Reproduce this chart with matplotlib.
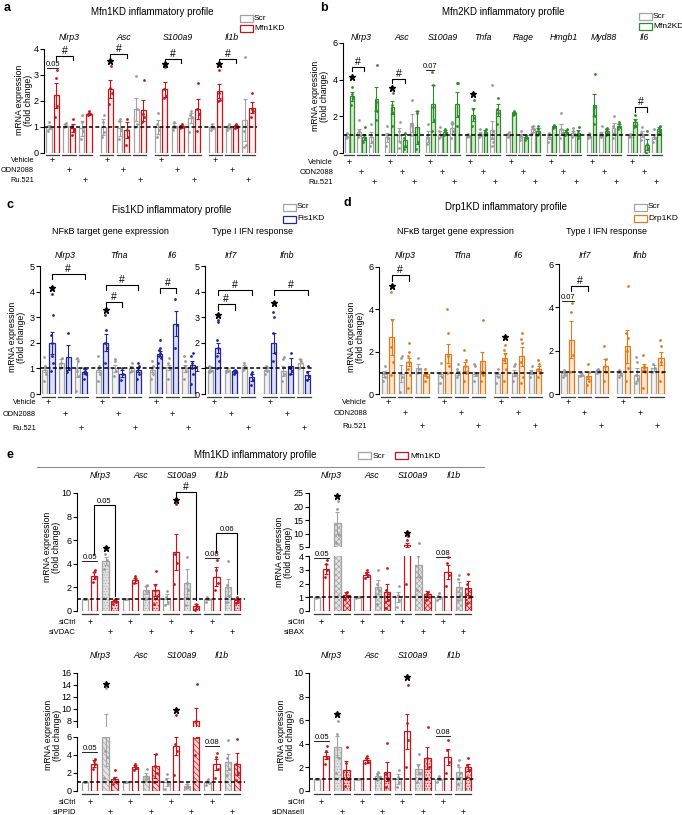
import numpy as np
import matplotlib

matplotlib.use("Agg")
import matplotlib.pyplot as plt
from matplotlib import transforms
from matplotlib.patches import Rectangle

W, H = 682, 815

plt.rcParams["font.family"] = ["Liberation Sans", "DejaVu Sans"]
plt.rcParams["hatch.linewidth"] = 0.5

# ---------------- data ----------------
# bar order per gene (a-d): Scr Veh, KD Veh, Scr ODN, KD ODN, Scr Ru, KD Ru
genes_a = ["Nlrp3", "Asc", "S100a9", "Il1b"]
mean_a = [
    [1.0, 2.22, 1.05, 0.95, 0.95, 1.5],
    [1.0, 2.45, 0.95, 0.88, 1.68, 1.65],
    [1.0, 2.45, 1.05, 1.02, 1.35, 1.68],
    [1.0, 2.38, 1.0, 1.02, 1.28, 1.75],
]
sem_a = [
    [0.08, 0.48, 0.05, 0.15, 0.28, 0.04],
    [0.3, 0.35, 0.3, 0.3, 0.45, 0.4],
    [0.28, 0.28, 0.1, 0.06, 0.2, 0.38],
    [0.05, 0.27, 0.05, 0.04, 0.8, 0.2],
]
dots_a = [
    [[0.85, 0.95, 1.05, 1.2], [1.4, 1.8, 2.9, 3.2], [1.0, 1.05, 1.1, 1.15],
     [0.7, 0.9, 1.05, 1.3], [0.55, 0.85, 1.2, 1.45], [1.45, 1.5, 1.52, 1.6]],
    [[0.6, 0.8, 1.2, 1.45], [1.9, 2.3, 2.5, 3.35], [0.55, 0.9, 1.25, 1.3],
     [0.3, 0.6, 0.9, 1.3], [1.0, 1.7, 2.95, 1.1], [1.2, 1.4, 1.5, 2.8]],
    [[0.6, 0.9, 1.1, 1.55], [2.1, 2.2, 2.45, 3.3], [0.9, 1.0, 1.05, 1.2],
     [0.95, 1.0, 1.05, 1.1], [0.8, 1.4, 1.45, 1.6], [0.85, 1.5, 1.7, 2.7]],
    [[0.9, 0.95, 1.0, 1.1], [2.0, 2.05, 2.3, 3.2], [0.9, 0.95, 1.05, 1.1],
     [0.95, 1.0, 1.05, 1.1], [0.25, 0.3, 0.85, 3.7], [1.4, 1.6, 1.7, 2.3]],
]

genes_b = ["Nlrp3", "Asc", "S100a9", "Tnfa", "Rage", "Hmgb1", "Myd88", "Il6"]
mean_b = [
    [0.95, 3.1, 1.15, 0.85, 0.85, 2.95],
    [0.85, 2.5, 1.0, 0.7, 1.65, 1.4],
    [0.9, 2.7, 1.05, 1.15, 1.35, 2.65],
    [0.95, 2.1, 1.05, 1.15, 1.25, 2.35],
    [1.0, 2.2, 0.95, 0.9, 1.3, 1.2],
    [0.9, 1.45, 1.3, 1.15, 1.1, 1.1],
    [0.95, 2.6, 1.05, 1.2, 1.35, 1.5],
    [0.95, 1.7, 1.05, 0.45, 0.9, 1.3],
]
sem_b = [
    [0.1, 0.25, 0.15, 0.15, 0.3, 0.65],
    [0.25, 0.35, 0.35, 0.35, 0.5, 0.9],
    [0.3, 1.0, 0.15, 0.1, 0.3, 0.7],
    [0.05, 0.35, 0.1, 0.1, 0.5, 0.35],
    [0.1, 0.05, 0.1, 0.1, 0.15, 0.15],
    [0.15, 0.05, 0.3, 0.1, 0.1, 0.15],
    [0.1, 0.6, 0.1, 0.1, 0.3, 0.1],
    [0.05, 0.15, 0.15, 0.3, 0.15, 0.1],
]
dots_b = [
    [[0.8, 0.9, 1.0, 1.1], [2.6, 3.0, 3.2, 3.6], [0.9, 1.0, 1.2, 1.8],
     [0.6, 0.8, 1.0, 1.4], [0.4, 0.6, 1.0, 1.6], [1.8, 2.3, 2.8, 4.8]],
    [[0.4, 0.8, 1.0, 1.5], [1.5, 2.2, 2.6, 3.3], [0.3, 0.6, 1.2, 1.7],
     [0.2, 0.4, 0.8, 1.1], [1.0, 1.5, 1.6, 2.9], [0.2, 0.6, 2.2, 2.3]],
    [[0.5, 0.8, 1.0, 1.6], [1.2, 1.8, 2.5, 3.7, 4.4], [0.8, 1.0, 1.2, 1.4],
     [1.0, 1.1, 1.2, 1.3], [0.8, 1.2, 1.6, 1.7], [1.5, 2.0, 3.8, 3.8]],
    [[0.9, 0.95, 1.0, 1.05], [1.5, 1.9, 2.4, 2.9], [0.9, 1.0, 1.1, 1.3],
     [1.0, 1.1, 1.2, 1.3], [0.4, 0.6, 0.8, 1.2, 3.7], [1.6, 2.2, 2.4, 3.0]],
    [[0.85, 0.95, 1.05, 1.15], [2.1, 2.15, 2.2, 2.3], [0.7, 0.9, 1.0, 1.2],
     [0.7, 0.8, 0.95, 1.0], [1.1, 1.3, 1.4, 1.5], [1.0, 1.1, 1.3, 1.5]],
    [[0.6, 0.9, 1.0, 1.1], [1.35, 1.4, 1.5, 1.55], [0.8, 1.1, 1.3, 2.2],
     [1.0, 1.1, 1.2, 1.3], [0.9, 1.0, 1.2, 1.35], [0.8, 1.0, 1.2, 1.4]],
    [[0.8, 0.9, 1.0, 1.1], [1.6, 2.0, 2.5, 4.3], [0.9, 1.0, 1.1, 1.5],
     [1.0, 1.2, 1.3, 1.35], [0.8, 1.1, 1.5, 2.0], [1.3, 1.4, 1.6, 1.7]],
    [[0.85, 0.95, 1.0, 1.05], [1.4, 1.5, 1.8, 2.1], [0.7, 1.0, 1.1, 1.4],
     [0.0, 0.3, 0.5, 1.2], [0.6, 0.8, 1.0, 1.3], [1.1, 1.2, 1.35, 1.5]],
]

genes_c_nfkb = ["Nlrp3", "Tfna", "Il6"]
genes_c_ifn = ["Irf7", "Ifnb"]
mean_c = [
    [0.94, 2.0, 1.22, 1.43, 1.0, 0.87],
    [0.95, 2.0, 1.0, 0.8, 1.0, 0.95],
    [0.95, 1.58, 1.05, 2.75, 1.0, 1.15],
    [0.95, 1.8, 0.95, 0.88, 1.05, 0.65],
    [0.95, 2.0, 0.9, 1.1, 1.22, 0.75],
]
sem_c = [
    [0.1, 0.43, 0.15, 0.48, 0.35, 0.1],
    [0.1, 0.33, 0.15, 0.15, 0.1, 0.1],
    [0.1, 0.1, 0.1, 0.5, 0.15, 0.15],
    [0.05, 0.2, 0.05, 0.05, 0.08, 0.15],
    [0.05, 0.4, 0.2, 0.3, 0.15, 0.15],
]
dots_c = [
    [[0.5, 0.8, 1.0, 1.1, 1.45], [0.9, 1.2, 1.5, 2.0, 2.3, 3.1, 3.9], [1.0, 1.4, 1.2],
     [0.85, 1.0, 2.4], [0.1, 0.7, 0.9, 1.3, 1.4], [0.6, 0.8, 0.85, 0.9, 1.0]],
    [[0.5, 0.8, 1.0, 1.1, 1.5], [1.2, 1.8, 2.0, 2.5, 3.1], [0.7, 0.9, 1.3, 1.35],
     [0.55, 0.8, 1.0], [0.85, 0.9, 1.05, 1.2], [0.6, 0.8, 1.0, 1.1, 1.2]],
    [[0.6, 0.8, 1.0, 1.1, 1.3], [1.2, 1.4, 1.5, 1.6, 1.7, 1.8, 2.1], [0.6, 1.0, 1.2, 1.4],
     [1.8, 2.7, 3.7], [0.6, 0.9, 1.1, 1.3, 1.5], [0.4, 0.8, 1.0, 1.2, 1.5, 1.6]],
    [[0.85, 0.9, 1.0, 1.05, 1.1], [1.0, 1.3, 1.5, 1.8, 2.1, 2.8, 2.9], [0.85, 0.9, 1.0],
     [0.8, 0.85, 0.9, 0.95], [0.95, 1.05, 1.2], [0.35, 0.55, 0.8, 0.85]],
    [[0.8, 0.9, 1.0, 1.05, 1.1], [1.3, 1.6, 2.4, 3.0, 3.2], [0.5, 0.8, 1.35, 1.45],
     [0.8, 0.9, 1.0, 1.6], [1.0, 1.3, 1.35], [0.55, 0.7, 0.85, 1.1]],
]

mean_d = [
    [0.95, 2.68, 0.95, 1.52, 1.22, 0.95],
    [0.95, 1.9, 1.0, 1.3, 0.95, 1.55],
    [0.95, 1.7, 1.0, 1.78, 1.05, 1.2],
    [0.95, 2.5, 0.9, 0.85, 1.05, 1.3],
    [0.95, 2.2, 0.9, 1.25, 1.2, 1.65],
]
sem_d = [
    [0.15, 0.85, 0.4, 0.2, 0.2, 0.1],
    [0.1, 0.45, 0.1, 0.2, 0.1, 0.45],
    [0.1, 0.25, 0.15, 0.45, 0.1, 0.1],
    [0.05, 0.85, 0.05, 0.15, 0.05, 0.3],
    [0.05, 0.75, 0.3, 0.15, 0.15, 0.3],
]
dots_d = [
    [[0.6, 0.8, 1.0, 1.3], [0.9, 1.5, 2.2, 3.5, 4.8], [0.1, 0.8, 1.7, 1.8],
     [0.3, 0.9, 1.2, 1.5, 1.8, 2.0, 2.4], [1.0, 1.2, 1.7], [0.6, 0.8, 0.9, 1.0, 1.2]],
    [[0.5, 0.8, 1.0, 1.45], [1.0, 1.3, 1.8, 2.9, 4.0], [0.8, 1.0, 1.2, 1.4],
     [0.6, 1.0, 1.3, 1.6, 2.1], [0.6, 0.9, 1.0, 1.3, 1.4], [0.6, 0.9, 1.0, 3.5]],
    [[0.5, 0.8, 1.0, 1.2], [0.6, 1.2, 1.6, 1.9, 2.1, 2.3], [0.6, 0.9, 1.3, 1.4],
     [0.5, 0.8, 1.5, 2.4, 2.6, 2.9], [0.8, 1.0, 1.1, 1.3], [0.8, 1.0, 1.2, 1.4, 1.6]],
    [[0.8, 0.9, 1.0, 1.1], [1.0, 1.8, 3.8, 4.2], [0.85, 0.9, 0.95],
     [0.4, 0.6, 0.8, 1.0, 1.4], [0.95, 1.0, 1.1, 1.15], [0.6, 1.0, 1.3, 1.6, 2.2]],
    [[0.8, 0.9, 1.0, 1.05, 1.1], [0.6, 1.2, 2.0, 2.6, 2.8, 5.0], [0.5, 0.7, 0.9, 1.5, 1.7],
     [0.3, 1.0, 1.2, 1.3, 1.8], [1.0, 1.2, 1.4], [0.6, 1.0, 1.5, 2.2, 2.5]],
]

# panel e: bar order per gene: Scr siCtrl, Mfn1KD siCtrl, Scr siX, Mfn1KD siX
genes_e = ["Nlrp3", "Asc", "S100a9", "Il1b"]
mean_e1 = [[1.0, 3.0, 4.25, 0.85], [1.0, 2.6, 1.75, 1.8], [1.0, 5.0, 2.4, 0.4], [1.0, 2.9, 2.0, 0.9]]
sem_e1 = [[0.02, 0.3, 0.35, 0.1], [0.02, 0.2, 0.35, 0.5], [0.4, 1.5, 1.2, 0.2], [0.1, 0.8, 0.75, 0.1]]
dots_e1 = [
    [[0.98, 1.0, 1.02], [2.5, 2.9, 3.3, 3.5], [3.6, 4.3, 4.8], [0.6, 0.8, 0.9, 1.0]],
    [[0.98, 1.0, 1.02], [2.4, 2.6, 2.8, 3.0], [1.0, 1.6, 2.1, 2.2], [0.6, 1.3, 2.2, 3.4]],
    [[0.5, 0.8, 1.2, 1.7], [2.3, 4.1, 4.8, 9.1], [0.5, 1.8, 2.4, 4.6], [0.1, 0.4, 0.6]],
    [[0.8, 1.0, 1.2], [1.8, 2.4, 3.5, 4.3], [0.8, 1.3, 2.2, 4.2], [0.7, 0.8, 1.0, 1.2]],
]
mean_e2 = [[1.0, 3.05, 14.0, 1.2], [1.0, 2.65, 1.75, 1.35], [1.0, 5.7, 3.35, 1.25], [1.0, 2.85, 1.75, 1.65]]
sem_e2 = [[0.02, 0.35, 4.0, 0.2], [0.02, 0.2, 0.5, 0.65], [0.35, 0.8, 0.9, 0.2], [0.1, 0.5, 0.35, 0.5]]
dots_e2 = [
    [[0.98, 1.0, 1.02], [2.5, 3.0, 3.4, 3.7], [6.5, 9.5, 19.0, 22.0], [0.9, 1.1, 1.3, 1.4]],
    [[0.98, 1.0, 1.02], [2.4, 2.6, 2.8, 3.0], [0.5, 1.5, 2.0, 3.0], [0.2, 0.8, 1.5, 3.1]],
    [[0.3, 0.8, 1.2, 1.8], [2.0, 4.5, 7.6, 9.1], [1.5, 2.5, 4.0, 6.5], [0.8, 1.0, 1.3, 1.4]],
    [[0.8, 1.0, 1.1, 1.3], [1.8, 2.6, 3.5, 3.9], [0.8, 1.2, 2.3, 2.6], [0.6, 1.0, 2.0, 2.7]],
]
mean_e3 = [[1.0, 3.05, 6.0, 1.3], [1.0, 2.7, 1.65, 2.75], [1.0, 5.05, 0.6, 8.0], [1.0, 2.95, 3.25, 3.0]]
sem_e3 = [[0.02, 0.35, 3.2, 0.3], [0.02, 0.2, 0.3, 1.35], [0.4, 1.0, 0.2, 2.1], [0.1, 0.65, 0.9, 1.2]]
dots_e3 = [
    [[0.98, 1.0, 1.02], [2.4, 3.0, 3.3, 3.6], [1.5, 3.8, 4.5, 13.5], [0.8, 1.0, 1.5, 2.3]],
    [[0.98, 1.0, 1.02], [2.3, 2.6, 2.8, 3.0], [1.1, 1.4, 1.7, 2.5], [1.0, 2.0, 2.8, 4.1]],
    [[0.2, 0.8, 1.3, 1.9], [1.8, 4.5, 5.2, 9.0], [0.3, 0.5, 0.8], [4.0, 6.0, 8.0, 14.2]],
    [[0.7, 0.9, 1.1, 1.3], [1.5, 2.4, 3.8, 4.2], [1.8, 2.5, 3.7, 5.7], [1.2, 2.0, 3.0, 5.8]],
]
mean_e4 = [[1.0, 3.0, 3.75, 1.8], [1.0, 2.6, 1.3, 1.65], [1.0, 5.05, 1.85, 2.8], [1.0, 2.9, 1.6, 2.0]]
sem_e4 = [[0.02, 0.3, 0.9, 0.75], [0.02, 0.2, 0.2, 0.8], [0.4, 1.45, 0.45, 0.9], [0.1, 0.7, 0.45, 0.3]]
dots_e4 = [
    [[0.98, 1.0, 1.02], [2.3, 2.8, 3.4, 3.8], [1.5, 2.8, 4.8, 5.9], [0.4, 1.0, 2.4, 3.7]],
    [[0.98, 1.0, 1.02], [2.4, 2.5, 2.8, 3.0], [0.9, 1.2, 1.4, 1.6], [0.3, 0.9, 1.4, 4.1]],
    [[0.3, 0.8, 1.2, 1.8], [2.0, 4.3, 5.8, 9.0], [0.8, 1.5, 2.2, 3.1], [1.0, 2.0, 2.8, 5.4]],
    [[0.8, 1.0, 1.1, 1.3], [1.5, 2.5, 3.5, 4.3], [0.6, 1.5, 2.2, 2.6], [1.2, 1.8, 2.2, 2.8]],
]

# significance marks: (gene, bar, y) / (gene, bar1, bar2, y, text[, leg1_end, leg2_end])
stars_a = [(1, 1, 3.55), (2, 1, 3.42), (3, 1, 3.42)]
pvals_a = [(0, 0, 1, 3.28, "0.05")]
brackets_a = [(0, 1, 3, 3.72, "#"), (1, 1, 3, 3.8, "#"), (2, 1, 3, 3.62, "#"), (3, 1, 3, 3.62, "#")]
stars_b = [(0, 1, 4.15), (1, 1, 3.55), (3, 1, 3.2)]
pvals_b = [(2, 0, 1, 4.55, "0.07")]
brackets_b = [(0, 1, 3, 4.7, "#"), (1, 1, 3, 4.05, "#"), (7, 1, 3, 2.5, "#")]
stars_c1 = [(0, 1, 4.15), (1, 1, 3.3)]
brackets_c1 = [(0, 1, 5, 4.7, "#"), (1, 1, 3, 3.6, "#"), (1, 1, 5, 4.25, "#"), (2, 1, 3, 4.13, "#")]
stars_c2 = [(0, 1, 3.1), (1, 1, 3.55)]
brackets_c2 = [(0, 1, 3, 3.5, "#"), (0, 1, 5, 4.06, "#"), (1, 1, 5, 4.06, "#")]
stars_d1 = [(0, 1, 5.1), (2, 1, 2.7)]
brackets_d1 = [(0, 1, 3, 5.6, "#")]
pvals_d2 = [(0, 0, 1, 4.3, "0.07")]
brackets_d2 = [(0, 1, 3, 4.98, "#")]
stars_e1 = [(0, 2, 5.3), (2, 1, 9.4)]
pvals_e1 = [(0, 0, 1, 4.2, "0.05"), (3, 0, 1, 4.5, "0.08")]
brackets_e1 = [(0, 1, 3, 9.0, "0.05", 4.8, 1.3), (2, 1, 3, 10.1, "#", 9.6, 0.9),
               (3, 1, 3, 6.6, "0.06", 5.0, 1.4)]
stars_e2 = [(0, 2, 24.0), (2, 1, 10.3)]
pvals_e2 = [(0, 0, 1, 3.85, "0.05"), (3, 0, 1, 3.95, "0.08")]
stars_e3 = [(0, 2, 14.2), (2, 1, 9.8)]
pvals_e3 = [(0, 0, 1, 4.3, "0.05"), (3, 0, 1, 5.0, "0.08")]
stars_e4 = [(0, 2, 6.5), (2, 1, 9.7)]
pvals_e4 = [(0, 0, 1, 4.2, "0.05"), (3, 0, 1, 4.7, "0.08")]

GRAY = "#a3a3a3"
DOT_GRAY = "#9a9a9a"
RED = "#c4161c"
GREEN = "#2e8b2e"
BLUE = "#24249c"
ORANGE = "#e27b1e"
JITTER = [-0.2, 0.2, -0.07, 0.07, -0.14, 0.14, 0.0, -0.25, 0.25, -0.1]

fig = plt.figure(figsize=(W / 100, H / 100), dpi=100)


def fy(y):
    return 1 - y / H


def make_axes(x0, y0, x1, y1, ylim, yticks, xlim):
    ax = fig.add_axes([x0 / W, 1 - y1 / H, (x1 - x0) / W, (y1 - y0) / H])
    ax.set_xlim(xlim)
    ax.set_ylim(ylim)
    ax.set_yticks(yticks)
    ax.set_xticks([])
    for s in ["top", "right", "bottom"]:
        ax.spines[s].set_visible(False)
    ax.spines["left"].set_linewidth(0.8)
    ax.tick_params(axis="y", length=3, width=0.8, labelsize=6.5, pad=1)
    ax.patch.set_alpha(0)
    return ax


def positions(ngenes, nbars, gstep, pgap):
    return [[g * gstep + i + (i // 2) * pgap for i in range(nbars)] for g in range(ngenes)]


def draw_bars(ax, xs, means, sems, dots, styles, width, dashed=True):
    for g in range(len(means)):
        for i in range(len(means[g])):
            face, edge, hatch, dotc = styles[i]
            x = xs[g][i]
            ax.bar(x, means[g][i], width, color=face, edgecolor=edge, hatch=hatch,
                   linewidth=0.9, zorder=2)
            ax.errorbar(x, means[g][i], yerr=sems[g][i], fmt="none", ecolor=edge,
                        capsize=1.3, elinewidth=0.8, capthick=0.8, zorder=3)
            pts = dots[g][i]
            ax.scatter(x + np.array(JITTER[:len(pts)]) * width, pts, s=4, color=dotc,
                       linewidths=0, zorder=4)
    if dashed:
        ax.axhline(1, color="k", lw=1.1, ls=(0, (2.6, 1.6)), zorder=5)


def star(ax, x, y):
    ax.plot(x, y, marker="*", ms=5, color="k", clip_on=False, zorder=6)


def pval(ax, x1, x2, y, text):
    ax.plot([x1, x2], [y, y], color="k", lw=0.6, clip_on=False)
    ax.text((x1 + x2) / 2, y, text, ha="center", va="bottom", fontsize=5.5)


def bracket(ax, x1, x2, y, text, e1=None, e2=None):
    drop = 0.04 * (ax.get_ylim()[1] - ax.get_ylim()[0])
    e1 = y - drop if e1 is None else e1
    e2 = y - drop if e2 is None else e2
    ax.plot([x1, x1, x2, x2], [e1, y, y, e2], color="k", lw=0.8, clip_on=False)
    fs = 7.5 if text == "#" else 5.5
    ax.text((x1 + x2) / 2, y, text, ha="center", va="bottom", fontsize=fs)


def marks(ax, xs, stars=(), pvals=(), brackets=(), pick=None):
    for g, b, y in stars:
        a = pick(y) if pick else ax
        star(a, xs[g][b], y)
    for g, b1, b2, y, t in pvals:
        a = pick(y) if pick else ax
        pval(a, xs[g][b1] - 0.3, xs[g][b2] + 0.3, y, t)
    for br in brackets:
        g, b1, b2, y, t = br[:5]
        ends = br[5:] if len(br) > 5 else (None, None)
        a = pick(y) if pick else ax
        bracket(a, xs[g][b1], xs[g][b2], y, t, *ends)


def gene_labels(ax, xs, genes, y):
    tr = transforms.blended_transform_factory(ax.transData, fig.transFigure)
    for g, name in enumerate(genes):
        ax.text(np.mean(xs[g]), fy(y), name, transform=tr, ha="center", va="center",
                fontsize=6.3, style="italic")


def treatment_rows(ax, xs, row_ys, under_y, half=0.42):
    tr = transforms.blended_transform_factory(ax.transData, fig.transFigure)
    npairs = len(xs[0]) // 2
    for g in range(len(xs)):
        for p in range(npairs):
            xa, xb = xs[g][2 * p], xs[g][2 * p + 1]
            ax.plot([xa - half, xb + half], [fy(under_y)] * 2, transform=tr,
                    color="#3c3c3c", lw=0.9, clip_on=False)
            ax.text((xa + xb) / 2, fy(row_ys[p]), "+", transform=tr, ha="center",
                    va="center", fontsize=6.5)


def row_labels(labels, row_ys, x, fs=5.5):
    for lab, y in zip(labels, row_ys):
        fig.text(x / W, fy(y), lab, ha="right", va="center", fontsize=fs)


def ylabel(x, y):
    fig.text(x / W, fy(y), "mRNA expression\n(fold change)", rotation=90, ha="center",
             va="center", fontsize=6.3, linespacing=1.0, multialignment="center")


def legend_item(x, y, label, edge):
    fig.patches.append(Rectangle((x / W, fy(y + 3.5)), 13 / W, 7 / H, transform=fig.transFigure,
                                 facecolor="white", edgecolor=edge, lw=0.9))
    fig.text((x + 14) / W, fy(y), label, ha="left", va="center", fontsize=6)


def styles6(kd_color, kd_face, scr_face):
    return [(scr_face, GRAY, None, DOT_GRAY), (kd_face, kd_color, None, kd_color)] * 3


def xlim6(ngenes):
    return (-0.7, (ngenes - 1) * 7.6 + 5.6 + 0.7)


def panel_letter(x, y, t):
    fig.text(x / W, fy(y), t, fontsize=9, fontweight="bold", ha="left", va="center")


# ---------------- panel a ----------------
rows3 = ["Vehicle", "ODN2088", "Ru.521"]
xs_a = positions(4, 6, 7.6, 0.3)
ax = make_axes(44, 49, 257, 153, (0, 4), [0, 1, 2, 3, 4], xlim6(4))
draw_bars(ax, xs_a, mean_a, sem_a, dots_a, styles6(RED, "#fff2f2", "white"), 0.72)
marks(ax, xs_a, stars_a, pvals_a, brackets_a)
gene_labels(ax, xs_a, genes_a, 38)
treatment_rows(ax, xs_a, [160, 170, 180], 155)
row_labels(rows3, [160, 170, 180], 34, fs=5.3)
ylabel(24, 100)
fig.text(152 / W, fy(12), "Mfn1KD inflammatory profile", ha="center", va="center", fontsize=7)
legend_item(240, 18.5, "Scr", GRAY)
legend_item(240, 28.5, "Mfn1KD", RED)
panel_letter(4, 8, "a")

# ---------------- panel b ----------------
xs_b = positions(8, 6, 7.6, 0.3)
ax = make_axes(343, 43, 663, 153, (0, 6), [0, 2, 4, 6], xlim6(8))
draw_bars(ax, xs_b, mean_b, sem_b, dots_b, styles6(GREEN, "#d3ebcc", "white"), 0.72)
marks(ax, xs_b, stars_b, pvals_b, brackets_b)
gene_labels(ax, xs_b, genes_b, 38)
treatment_rows(ax, xs_b, [162, 172, 182], 155, half=0.45)
row_labels(rows3, [162, 172, 182], 333)
ylabel(320, 96)
fig.text(503 / W, fy(12), "Mfn2KD inflammatory profile", ha="center", va="center", fontsize=7)
legend_item(639, 16.5, "Scr", GRAY)
legend_item(639, 26.5, "Mfn2KD", GREEN)
panel_letter(320, 8, "b")

# ---------------- panel c ----------------
xs_c1 = positions(3, 6, 7.6, 0.3)
xs_c2 = positions(2, 6, 7.6, 0.3)
st_c = styles6(BLUE, "#dde0f5", "#f2f2f2")
ax = make_axes(40, 266, 197, 394, (0, 5), [0, 1, 2, 3, 4, 5], xlim6(3))
draw_bars(ax, xs_c1, mean_c[:3], sem_c[:3], dots_c[:3], st_c, 0.72)
marks(ax, xs_c1, stars_c1, (), brackets_c1)
gene_labels(ax, xs_c1, genes_c_nfkb, 255)
treatment_rows(ax, xs_c1, [402, 415, 428], 397)
ax2 = make_axes(205, 266, 313, 394, (0, 5), [0, 1, 2, 3, 4, 5], xlim6(2))
draw_bars(ax2, xs_c2, mean_c[3:], sem_c[3:], dots_c[3:], st_c, 0.72)
marks(ax2, xs_c2, stars_c2, (), brackets_c2)
gene_labels(ax2, xs_c2, genes_c_ifn, 255)
treatment_rows(ax2, xs_c2, [402, 415, 428], 397)
row_labels(rows3, [402, 415, 428], 36, fs=5.3)
ylabel(17, 337)
fig.text(172 / W, fy(210), "Fis1KD inflammatory profile", ha="center", va="center", fontsize=7)
fig.text(110 / W, fy(232), "NFκB target gene expression", ha="center", va="center", fontsize=6.5)
fig.text(252 / W, fy(232), "Type I IFN response", ha="center", va="center", fontsize=6.5)
legend_item(283, 207, "Scr", GRAY)
legend_item(283, 219, "Fis1KD", BLUE)
panel_letter(6, 205, "c")

# ---------------- panel d ----------------
st_d = styles6(ORANGE, "#fce6d2", "#f2f2f2")
ax = make_axes(379, 267, 544, 394, (0, 6), [0, 2, 4, 6], xlim6(3))
draw_bars(ax, xs_c1, mean_d[:3], sem_d[:3], dots_d[:3], st_d, 0.72)
marks(ax, xs_c1, stars_d1, (), brackets_d1)
gene_labels(ax, xs_c1, genes_c_nfkb, 255)
treatment_rows(ax, xs_c1, [402, 414, 426], 397)
ax2 = make_axes(559, 264, 666, 394, (0, 6), [0, 2, 4, 6], xlim6(2))
draw_bars(ax2, xs_c2, mean_d[3:], sem_d[3:], dots_d[3:], st_d, 0.72)
marks(ax2, xs_c2, (), pvals_d2, brackets_d2)
gene_labels(ax2, xs_c2, genes_c_ifn, 255)
treatment_rows(ax2, xs_c2, [402, 414, 426], 397)
row_labels(rows3, [402, 414, 426], 367)
ylabel(356, 337)
fig.text(506 / W, fy(207), "Drp1KD inflammatory profile", ha="center", va="center", fontsize=7)
fig.text(455 / W, fy(232), "NFκB target gene expression", ha="center", va="center", fontsize=6.5)
fig.text(607 / W, fy(232), "Type I IFN response", ha="center", va="center", fontsize=6.5)
legend_item(634, 207, "Scr", GRAY)
legend_item(634, 218, "Drp1KD", ORANGE)
panel_letter(344, 203, "d")

# ---------------- panel e ----------------
xs_e = positions(4, 4, 4.5, 0.25)
xlim_e = (-0.9, 13.5 + 3.25 + 0.9)


def styles_e(hatch):
    return [("white", GRAY, None, DOT_GRAY), ("white", RED, None, RED),
            ("#e4e4e4", GRAY, hatch, DOT_GRAY), ("#f7d6d6", RED, hatch, RED)]


panel_letter(6, 455, "e")
fig.text(255 / W, fy(455), "Mfn1KD inflammatory profile", ha="center", va="center", fontsize=7)
fig.add_artist(plt.Line2D([37 / W, 484 / W], [fy(467), fy(467)], color="#8c8c8c", lw=0.8))
fig.patches.append(Rectangle((358 / W, fy(459.5)), 13 / W, 7 / H, transform=fig.transFigure,
                             facecolor="white", edgecolor=GRAY, lw=0.9))
fig.text(373 / W, fy(456), "Scr", ha="left", va="center", fontsize=6)
fig.patches.append(Rectangle((395 / W, fy(459.5)), 13 / W, 7 / H, transform=fig.transFigure,
                             facecolor="white", edgecolor=RED, lw=0.9))
fig.text(410 / W, fy(456), "Mfn1KD", ha="left", va="center", fontsize=6)

# e1: siVDAC
ax = make_axes(77, 493, 245, 611, (0, 10), [0, 2, 4, 6, 8, 10], xlim_e)
draw_bars(ax, xs_e, mean_e1, sem_e1, dots_e1, styles_e("......"), 0.7)
marks(ax, xs_e, stars_e1, pvals_e1, brackets_e1)
gene_labels(ax, xs_e, genes_e, 476)
treatment_rows(ax, xs_e, [622, 632], 614, half=0.4)
row_labels(["siCtrl", "siVDAC"], [622, 632], 76)
ylabel(52, 547)

# e2: siBAX (broken axis)
lo = make_axes(309, 556, 476, 611, (0, 4), [0, 1, 2, 3, 4], xlim_e)
hi = make_axes(309, 493, 476, 547, (5, 25), [5, 10, 15, 20, 25], xlim_e)
draw_bars(lo, xs_e, mean_e2, sem_e2, dots_e2, styles_e("xxxxxx"), 0.7)
draw_bars(hi, xs_e, mean_e2, sem_e2, dots_e2, styles_e("xxxxxx"), 0.7, dashed=False)
marks(lo, xs_e, stars_e2, pvals_e2, (), pick=lambda y: lo if y <= 4.5 else hi)
gene_labels(lo, xs_e, genes_e, 476)
treatment_rows(lo, xs_e, [622, 632], 614, half=0.4)
row_labels(["siCtrl", "siBAX"], [622, 632], 305)
ylabel(284, 552)

# e3: siPPID (broken axis)
lo = make_axes(77, 737, 245, 791, (0, 6), [0, 2, 4, 6], xlim_e)
hi = make_axes(77, 673, 245, 727, (7, 16), [8, 10, 12, 14, 16], xlim_e)
draw_bars(lo, xs_e, mean_e3, sem_e3, dots_e3, styles_e("\\\\\\\\\\\\"), 0.7)
draw_bars(hi, xs_e, mean_e3, sem_e3, dots_e3, styles_e("\\\\\\\\\\\\"), 0.7, dashed=False)
marks(lo, xs_e, stars_e3, pvals_e3, (), pick=lambda y: lo if y <= 6.5 else hi)
gene_labels(lo, xs_e, genes_e, 656)
treatment_rows(lo, xs_e, [802, 812], 794, half=0.4)
row_labels(["siCtrl", "siPPID"], [802, 812], 76)
ylabel(53, 735)

# e4: siDNaseII
ax = make_axes(309, 673, 476, 791, (0, 10), [0, 2, 4, 6, 8, 10], xlim_e)
draw_bars(ax, xs_e, mean_e4, sem_e4, dots_e4, styles_e("......"), 0.7)
marks(ax, xs_e, stars_e4, pvals_e4, ())
gene_labels(ax, xs_e, genes_e, 656)
treatment_rows(ax, xs_e, [802, 812], 794, half=0.4)
row_labels(["siCtrl", "siDNaseII"], [802, 812], 305)
ylabel(286, 735)

fig.savefig("out.png", dpi=100)
